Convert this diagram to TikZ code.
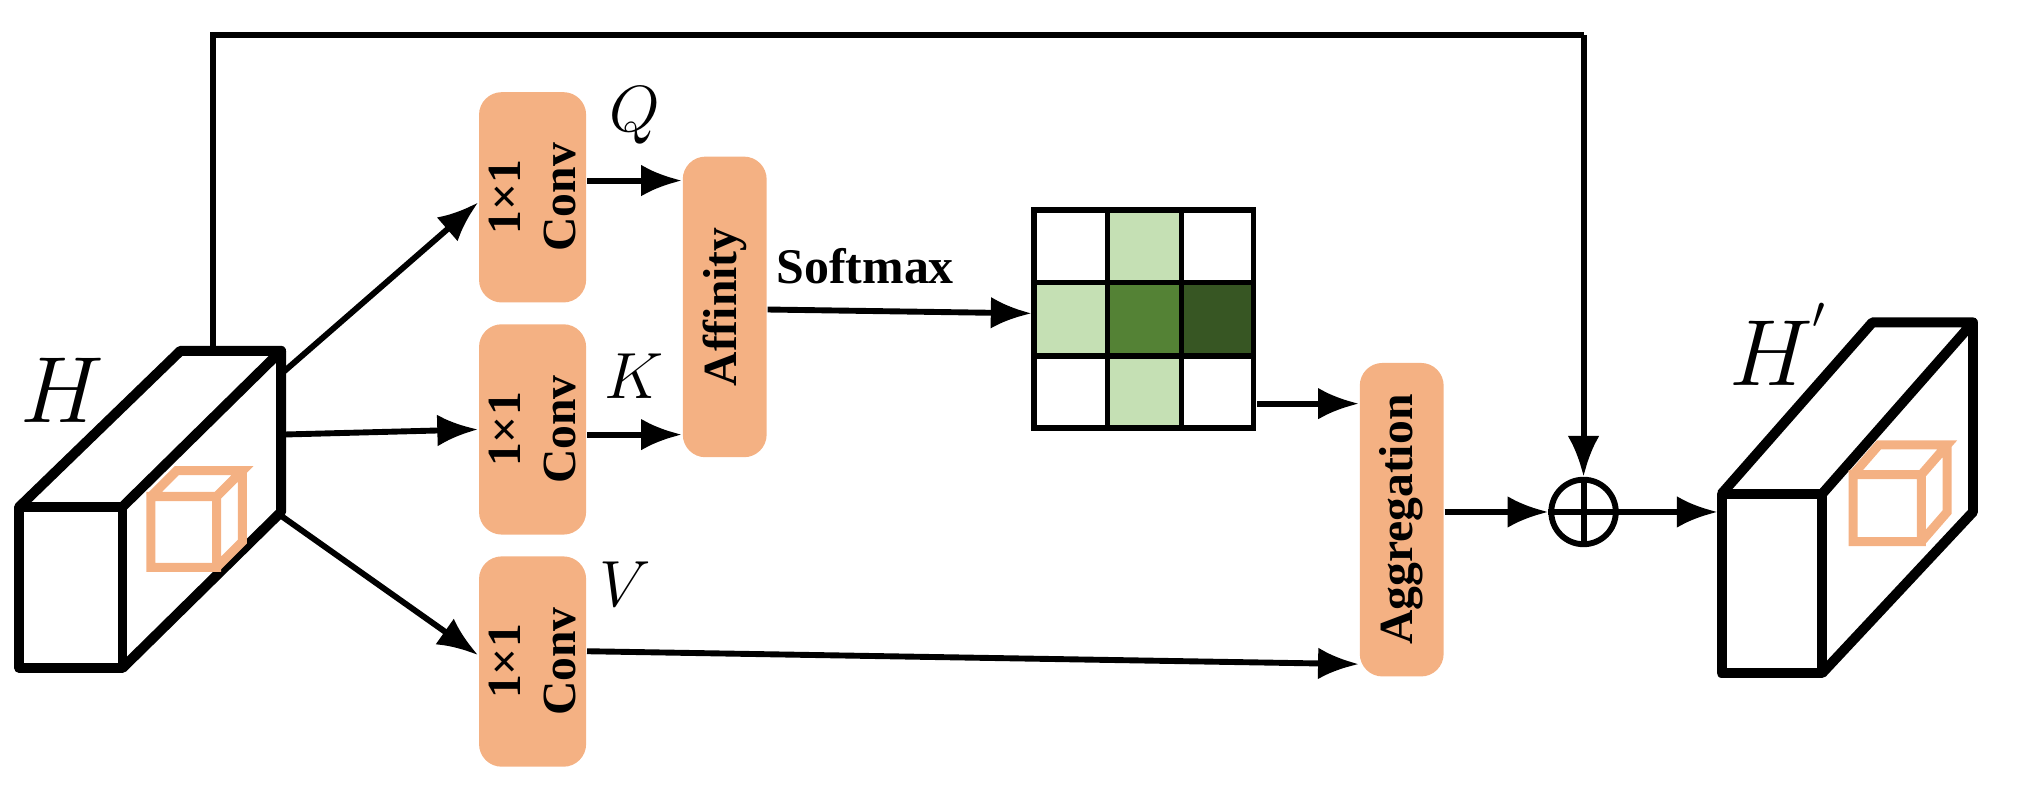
\documentclass[tikz,border=0pt]{standalone}
\usepackage{fontspec}
\setmainfont{Liberation Serif}
\usetikzlibrary{arrows.meta}
\definecolor{org}{HTML}{F4B183}
\definecolor{lg}{HTML}{C5E0B4}
\definecolor{mg}{HTML}{548235}
\definecolor{dg}{HTML}{375623}
\begin{document}
\begin{tikzpicture}[x=0.01cm,y=-0.01cm,
  blk/.style={fill=org,rounded corners=5pt,draw=none},
  lbl/.style={font=\bfseries\fontsize{10.5pt}{12pt}\selectfont,rotate=90,align=center},
  arr/.style={line width=1.3pt,-{Latex[length=9pt,width=7pt]}},
  ln/.style={line width=1.3pt}]
\useasboundingbox (0,0) rectangle (1568,614);
% left cuboid
\draw[line width=2.2pt,line join=round] (15,393) rectangle (95,518);
\draw[line width=2.2pt,line join=round] (15,393)--(140,272)--(218,272)--(95,393);
\draw[line width=2.2pt,line join=round] (218,272)--(218,397)--(95,518);
\draw[org,line width=2pt] (117,385) rectangle (168,440) (117,385)--(137,365)--(188,365)--(168,385) (188,365)--(188,420)--(168,440);
\node[font=\itshape\fontsize{20pt}{22pt}\selectfont] (H) at (48,303) {$H$};
% right cuboid
\draw[line width=2.2pt,line join=round] (1335,383) rectangle (1413,522);
\draw[line width=2.2pt,line join=round] (1335,383)--(1452,250)--(1530,250)--(1413,383);
\draw[line width=2.2pt,line join=round] (1530,250)--(1530,397)--(1413,522);
\draw[org,line width=2pt] (1437,368) rectangle (1490,420) (1437,368)--(1457,345)--(1510,345)--(1490,368) (1510,345)--(1510,397)--(1490,420);
\node[font=\fontsize{20pt}{22pt}\selectfont] (Hp) at (1380,267) {$H^{'}$};
% conv blocks
\node[blk,minimum width=0.83cm,minimum height=1.63cm] (c1) at (413,153) {};
\node[blk,minimum width=0.83cm,minimum height=1.63cm] (c2) at (413,333) {};
\node[blk,minimum width=0.83cm,minimum height=1.63cm] (c3) at (413,513) {};
\foreach \c in {c1,c2,c3} \node[lbl] at (\c) {1×1\\Conv};
\node[blk,minimum width=0.65cm,minimum height=2.33cm] (aff) at (562,238) {};
\node[lbl] at (aff) {Affinity};
\node[blk,minimum width=0.65cm,minimum height=2.43cm] (agg) at (1087,403) {};
\node[lbl] at (agg) {Aggregation};
% grid
\fill[lg] (859,163) rectangle (916,219);
\fill[lg] (802,219) rectangle (859,276);
\fill[mg] (859,219) rectangle (916,276);
\fill[dg] (916,219) rectangle (972,276);
\fill[lg] (859,276) rectangle (916,332);
\draw[line width=1.2pt] (802,163) rectangle (972,332) (859,163)--(859,332) (916,163)--(916,332) (802,219)--(972,219) (802,276)--(972,276);
\coordinate (g) at (975,313);
% oplus
\node[circle,draw,line width=1.3pt,minimum size=0.5cm,inner sep=0] (op) at (1228,397) {};
\draw[line width=1.3pt] (op.north)--(op.south) (op.west)--(op.east);
% arrows
\draw[arr] (218,290)--(c1.west|-0,157);
\draw[arr] (218,337)--(c2.west);
\draw[arr] (218,400)--(c3.west|-0,508);
\draw[arr] (c1.east|-0,140)--(aff.west|-0,140) node[midway,above=4pt,font=\itshape\fontsize{14pt}{16pt}\selectfont]{$Q$};
\draw[arr] (c2.east|-0,337)--(aff.west|-0,337) node[midway,above=4pt,font=\itshape\fontsize{14pt}{16pt}\selectfont]{$K$};
\draw[arr] (c3.east|-0,505)--(agg.west|-0,515) node[pos=0.05,above=6pt,font=\itshape\fontsize{14pt}{16pt}\selectfont]{$V$};
\draw[arr] (aff.east|-0,240)--(800,243) node[pos=0.37,above=2pt,font=\bfseries\fontsize{11pt}{13pt}\selectfont]{Softmax};
\draw[arr] (g)--(agg.west|-g);
\draw[arr] (agg.east|-op)--(op.west);
\draw[arr] (op.east)--(1332,397);
\draw[ln] (165,272)--(165,27)--(1228,27);
\draw[arr] (1228,27)--(op.north);
\end{tikzpicture}
\end{document}
